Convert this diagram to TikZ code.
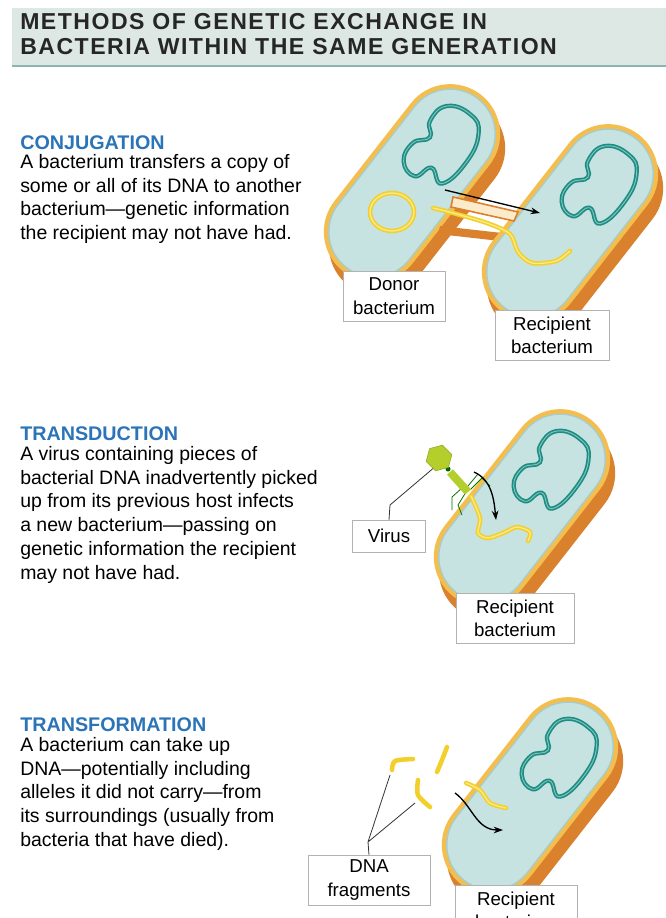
\documentclass[tikz,border=0pt]{standalone}
\usepackage{fontspec}
\setmainfont{Liberation Sans}
\usetikzlibrary{arrows.meta,shapes.geometric,positioning}
\definecolor{bandfill}{HTML}{DDE8E5}
\definecolor{bandline}{HTML}{8DB4AE}
\definecolor{headblue}{HTML}{2B74B8}
\definecolor{cellside}{HTML}{D9812C}
\definecolor{cellrim}{HTML}{F4BE4E}
\definecolor{cellin}{HTML}{C6E3E2}
\definecolor{cellinrim}{HTML}{A5CDCE}
\definecolor{chromo}{HTML}{1E8C82}
\definecolor{chromolt}{HTML}{7CC6BE}
\definecolor{dnayel}{HTML}{F3CF2A}
\definecolor{dnalt}{HTML}{FBEA8C}
\definecolor{virgreen}{HTML}{B4CF2C}
\tikzset{
    heading/.style={anchor=west,inner sep=0pt,text=headblue,font=\bfseries\fontsize{14.8}{17}\selectfont},
    body/.style={anchor=north west,align=left,inner sep=0pt,font=\fontsize{14.6}{17.8}\selectfont},
    tag/.style={draw=black!30,fill=white,align=center,inner sep=0pt,font=\fontsize{14}{17.5}\selectfont},
    dna/.style={draw=dnayel,line width=3.4pt,line cap=round},
    dnahi/.style={draw=dnalt,line width=1pt,line cap=round},
    leader/.style={draw=black!80,line width=0.6pt},
    pointer/.style={-{Stealth[length=7pt,width=5pt]},line width=1pt}
}
% capsule shaped cell, seen from above, with its chromosome
\newcommand\bactcell[2]{%
    \begin{scope}[shift={(#1+5,#2+14)},rotate=52]
        \fill[cellside] (-112,-50) [rounded corners=37.5pt] rectangle (112,50);
    \end{scope}
    \begin{scope}[shift={(#1,#2)},rotate=52]
        \fill[cellrim] (-112,-50) [rounded corners=37.5pt] rectangle (112,50);
        \fill[cellin,draw=cellinrim,line width=1pt] (-107,-45) [rounded corners=33.7pt] rectangle (107,45);
        \draw[chromo,line width=3.2pt] plot[smooth cycle,tension=0.8] coordinates
            {(18,24) (50,30) (80,22) (90,4) (82,-20) (60,-24) (47,-14) (32,-24) (12,-20) (7,-2) (24,6)};
        \draw[chromolt,line width=0.7pt] plot[smooth cycle,tension=0.8] coordinates
            {(18,24) (50,30) (80,22) (90,4) (82,-20) (60,-24) (47,-14) (32,-24) (12,-20) (7,-2) (24,6)};
    \end{scope}
}
\begin{document}
\begin{tikzpicture}[x=0.75pt,y=-0.75pt]
    \clip (0,0) rectangle (666,918);
    \fill[white] (0,0) rectangle (666,918);
    % title
    \fill[bandfill] (12,8) rectangle (666,66);
    \draw[bandline,line width=1pt] (12,66) -- (666,66);
    \node[anchor=north west,align=left,inner sep=0pt,text=black!85,
        font=\bfseries\fontsize{17.3}{19}\selectfont\addfontfeature{LetterSpace=6.5}] (title) at (20,13)
        {METHODS OF GENETIC EXCHANGE IN\\BACTERIA WITHIN THE SAME GENERATION};
    % texts
    \node[heading] (conjh) at (20,143) {CONJUGATION};
    \node[body] (conjt) at (20,154) {A bacterium transfers a copy of\\some or all of its DNA to another\\bacterium---genetic information\\the recipient may not have had.};
    \node[heading] (transh) at (20,434) {TRANSDUCTION};
    \node[body] (transt) at (20,446) {A virus containing pieces of\\bacterial DNA inadvertently picked\\up from its previous host infects\\a new bacterium---passing on\\genetic information the recipient\\may not have had.};
    \node[heading] (formh) at (20,725) {TRANSFORMATION};
    \node[body] (formt) at (20,737) {A bacterium can take up\\DNA---potentially including\\alleles it did not carry---from\\its surroundings (usually from\\bacteria that have died).};

    % conjugation
    \bactcell{412}{183}
    \fill[cellside] (440,226) -- (502,233) -- (500,241) -- (438,234) -- cycle;
    \bactcell{570}{223}
    \filldraw[fill=white!70!cellrim,draw=cellside,line width=1.2pt] (453,197) -- (518,212) -- (514,221) -- (451,207) -- cycle;
    \draw[dna] (392,212) ellipse (22 and 19);
    \draw[dnahi] (392,212) ellipse (22 and 19);
    \draw[dna] plot[smooth] coordinates {(433,208) (453,213) (487,223) (510,234) (518,252) (532,263) (556,261) (570,251)};
    \draw[dnahi] plot[smooth] coordinates {(433,208) (453,213) (487,223) (510,234) (518,252) (532,263) (556,261) (570,251)};
    \coordinate (pilusin) at (445,190);
    \coordinate (pilusout) at (540,213);
    \draw[pointer] (pilusin) -- (pilusout);
    \node[tag,minimum width=102pt*0.75,minimum height=50pt*0.75] (donor) at (394,296) {Donor\\bacterium};
    \node[tag,minimum width=114pt*0.75,minimum height=50pt*0.75] (recip1) at (552,335) {Recipient\\bacterium};

    % transduction
    \bactcell{522}{508}
    \draw[dna] plot[smooth] coordinates {(471,496) (480,518) (478,533) (488,538) (503,533) (517,527) (530,532) (528,541)};
    \draw[dnahi] plot[smooth] coordinates {(471,496) (480,518) (478,533) (488,538) (503,533) (517,527) (530,532) (528,541)};
    \draw[green!45!black,line width=0.6pt] (462,488) -- (452,497) -- (452,510)
        (466,492) -- (458,505) -- (462,515) (470,490) -- (482,478) -- (490,486)
        (468,486) -- (478,474);
    \draw[virgreen,line width=6pt] (450,472) -- (468,492);
    \fill[green!40!black] (448,469) circle (2.5);
    \node[regular polygon,regular polygon sides=6,fill=virgreen,draw=virgreen!80!black,line width=0.4pt,
        minimum size=20pt,inner sep=0pt,rotate=15] (head) at (439,458) {};
    \draw[pointer] (474,472) .. controls (492,480) and (494,500) .. (496,520);
    \node[tag,minimum width=73pt*0.75,minimum height=32pt*0.75] (virus) at (389,536) {Virus};
    \coordinate (vbend) at (390,505);
    \draw[leader] (virus.north) -- (vbend) -- (head.south west);
    \node[tag,minimum width=118pt*0.75,minimum height=50pt*0.75] (recip2) at (515,618) {Recipient\\bacterium};

    % transformation
    \bactcell{530}{796}
    \draw[dna] plot[smooth] coordinates {(392,770) (395,761) (413,759)};
    \draw[dna] plot[smooth] coordinates {(447,747) (442,760) (437,772)};
    \draw[dna] plot[smooth] coordinates {(418,780) (418,795) (430,807)};
    \draw[dna] plot[smooth] coordinates {(466,783) (480,790) (490,803) (506,808)};
    \draw[dnahi] plot[smooth] coordinates {(466,783) (480,790) (490,803) (506,808)};
    \draw[pointer] (455,793) .. controls (472,805) and (476,830) .. (503,830);
    \node[tag,minimum width=122pt*0.75,minimum height=50pt*0.75] (frags) at (369,880) {DNA\\fragments};
    \coordinate (fjoin) at (368,842);
    \coordinate (frag1) at (390,775);
    \coordinate (frag2) at (415,803);
    \draw[leader] (frags.north) -- (fjoin) -- (frag1) (fjoin) -- (frag2);
    \node[tag,minimum width=122pt*0.75,minimum height=50pt*0.75] (recip3) at (516,910) {Recipient\\bacterium};
\end{tikzpicture}
\end{document}
